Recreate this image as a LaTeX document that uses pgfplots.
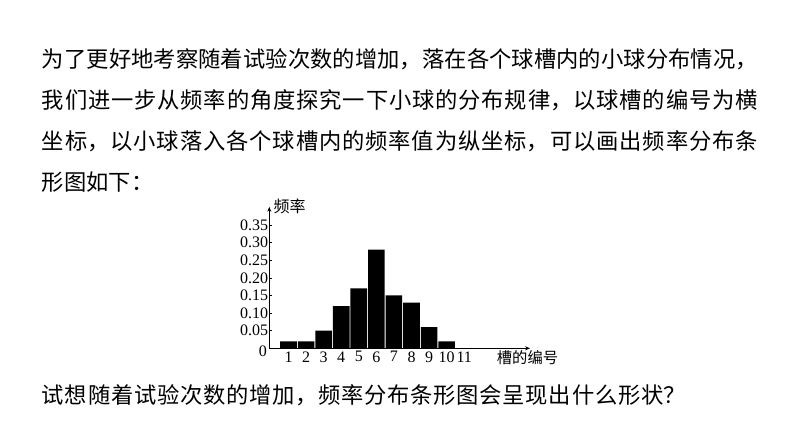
\documentclass[border=0pt]{standalone}
\usepackage{fontspec}
\setmainfont{Liberation Serif}
\newfontfamily\cjk{Noto Sans CJK SC}
\usepackage{pgfplots}
\pgfplotsset{compat=1.18}
\usetikzlibrary{arrows.meta}

\begin{document}
\begin{tikzpicture}[x=1pt,y=1pt]
\fill[white] (0,0) rectangle (794,447);

% paragraph above the chart
\node[anchor=base west, inner sep=0] at (41.7,379) {\parbox[t]{716pt}{%
\cjk\fontsize{22.3}{41}\selectfont
\XeTeXlinebreaklocale "zh"\XeTeXlinebreakskip=0pt plus 10pt\relax
\tolerance=10000 \hbadness=10000 %
为了更好地考察随着试验次数的增加，落在各个球槽内的小球分布情况，\linebreak
我们进一步从频率的角度探究一下小球的分布规律，以球槽的编号为横\linebreak
坐标，以小球落入各个球槽内的频率值为纵坐标，可以画出频率分布条\linebreak
形图如下：}};

% question below the chart
\node[anchor=base west, inner sep=0] at (41.7,44) {\parbox[t]{644pt}{%
\cjk\fontsize{22.3}{41}\selectfont
\XeTeXlinebreaklocale "zh"\XeTeXlinebreakskip=0pt plus 10pt\relax
\tolerance=10000 \hbadness=10000 %
{\parfillskip=0pt 试想随着试验次数的增加，频率分布条形图会呈现出什么形状？\par}}};

\begin{axis}[
    at={(269.3pt,98.7pt)}, anchor=south west,
    x=17.57pt, y=352pt,
    xmin=-0.093, xmax=14.75,
    ymin=0, ymax=0.402,
    axis lines=left,
    axis line style={line width=0.7pt, -{Stealth[length=5pt,width=4pt]}},
    clip=false,
    xtick={1,...,11},
    ytick={0.05,0.10,0.15,0.20,0.25,0.30,0.35},
    tick align=inside,
    major tick length=3pt,
    xtick style={draw=none},
    ytick style={line width=0.6pt, black},
    ticklabel style={font=\fontsize{16}{16}\selectfont, inner sep=1pt},
    xticklabel style={yshift=-2pt},
    yticklabel style={/pgf/number format/fixed,
        /pgf/number format/fixed zerofill,
        /pgf/number format/precision=2},
    /pgf/number format/assume math mode=true,
]

    % frequency of each slot
    \addplot[ybar, bar width=16.6pt, fill=black, draw=none] coordinates {
        (1,0.02) (2,0.02) (3,0.05) (4,0.12) (5,0.17)
        (6,0.28) (7,0.15) (8,0.13) (9,0.06) (10,0.02)
    };

    \node[font=\fontsize{16}{16}\selectfont, inner sep=0, xshift=-6.5pt, yshift=-3.3pt] at (rel axis cs:0,0) {0};
    \node[anchor=west, font=\cjk\fontsize{16}{16}\selectfont, inner sep=0, xshift=4pt] at (rel axis cs:0,1) {频率};
    \node[anchor=west, font=\cjk\fontsize{15.3}{16}\selectfont, inner sep=0] at (axis cs:12.85,-0.0276) {槽的编号};

\end{axis}
\end{tikzpicture}
\end{document}
